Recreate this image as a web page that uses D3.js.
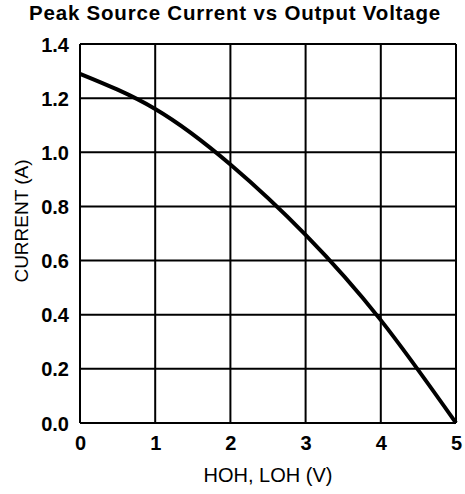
<!DOCTYPE html>
<meta charset="utf-8">
<html>
<head>
<title>Peak Source Current vs Output Voltage</title>
<style>
body { margin: 0; background: #fff; }
text { font-family: "Liberation Sans", Arial, sans-serif; fill: #000; }
.tick text { font-weight: bold; font-size: 20px; }
</style>
</head>
<body>
<svg width="465" height="494"></svg>
<script src="https://d3js.org/d3.v7.min.js"></script>
<script>

// values
var voltage = [0, 1, 2, 3, 4, 5];
var current = [1.29, 1.16, 0.955, 0.695, 0.38, 0];
var xTicks = [0, 1, 2, 3, 4, 5];
var yTicks = [0, 0.2, 0.4, 0.6, 0.8, 1.0, 1.2, 1.4];

var svg = d3.select("svg"),
    margin = {top: 44, right: 9, bottom: 71, left: 80},
    width = +svg.attr("width") - margin.left - margin.right,
    height = +svg.attr("height") - margin.top - margin.bottom,
    g = svg.append("g").attr("transform", "translate(" + margin.left + "," + margin.top + ")");

var x = d3.scaleLinear().domain([0, 5]).range([0, width]);
var y = d3.scaleLinear().domain([0, 1.4]).range([height, 0]);

// grid
g.append("g")
  .selectAll("line")
  .data(xTicks)
  .enter().append("line")
    .attr("x1", function(d) { return x(d); })
    .attr("x2", function(d) { return x(d); })
    .attr("y1", 0).attr("y2", height)
    .attr("stroke", "#000").attr("stroke-width", 2);

g.append("g")
  .selectAll("line")
  .data(yTicks)
  .enter().append("line")
    .attr("y1", function(d) { return y(d); })
    .attr("y2", function(d) { return y(d); })
    .attr("x1", 0).attr("x2", width)
    .attr("stroke", "#000").attr("stroke-width", 2);

// axes (labels only)
var xAxis = g.append("g")
    .attr("transform", "translate(0," + height + ")")
    .call(d3.axisBottom(x).tickValues(xTicks).tickFormat(d3.format("d")).tickSize(0).tickPadding(13));
xAxis.select(".domain").remove();

var yAxis = g.append("g")
    .call(d3.axisLeft(y).tickValues(yTicks).tickFormat(d3.format(".1f")).tickSize(0).tickPadding(11));
yAxis.select(".domain").remove();
yAxis.selectAll(".tick text").attr("dy", "0.35em");

// curve
var line = d3.line()
    .x(function(d) { return x(d[0]); })
    .y(function(d) { return y(d[1]); })
    .curve(d3.curveNatural);

g.append("path")
    .datum(d3.zip(voltage, current))
    .attr("fill", "none")
    .attr("stroke", "#000")
    .attr("stroke-width", 4)
    .attr("d", line);

// titles
svg.append("text")
    .attr("x", 235).attr("y", 20)
    .attr("text-anchor", "middle")
    .attr("font-weight", "bold")
    .attr("font-size", 20.5)
    .attr("letter-spacing", 0.8)
    .text("Peak Source Current vs Output Voltage");

svg.append("text")
    .attr("x", margin.left + width / 2).attr("y", 482)
    .attr("text-anchor", "middle")
    .attr("font-size", 20)
    .text("HOH, LOH (V)");

svg.append("text")
    .attr("transform", "translate(27.5,221) rotate(-90)")
    .attr("text-anchor", "middle")
    .attr("font-size", 19)
    .text("CURRENT (A)");

</script>
</body>
</html>
